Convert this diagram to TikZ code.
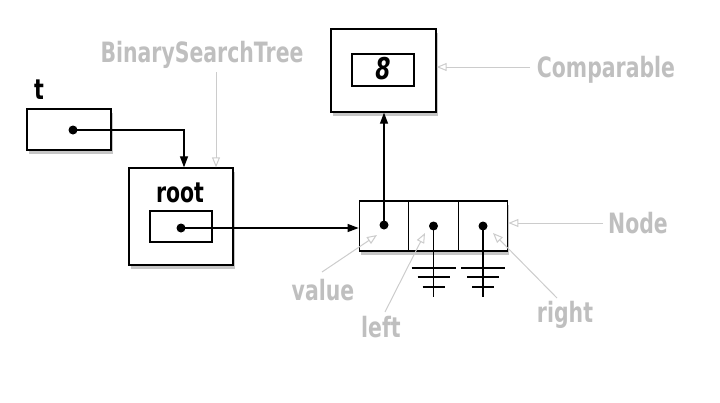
\documentclass[tikz,border=0pt]{standalone}
\usepackage{fontspec}
\newfontfamily\labfont[FakeStretch=0.73]{DejaVu Sans}
\usetikzlibrary{arrows.meta,shadows}
\definecolor{labgray}{gray}{0.75}
\definecolor{linegray}{gray}{0.8}
\tikzset{
  box/.style={draw=black, line width=1.3pt, fill=white, inner sep=0pt},
  shbox/.style={box, drop shadow={shadow xshift=1.5pt, shadow yshift=-3.5pt, opacity=0.45}},
  dot/.style={circle, fill=black, inner sep=0pt, minimum size=9pt},
  arr/.style={draw=black, line width=1.2pt, -{Triangle[length=11pt,width=8pt]}},
  garr/.style={draw=linegray, line width=1pt, -{Triangle[open,length=10pt,width=8pt]}},
  gline/.style={draw=black, line width=1.2pt},
  glab/.style={font=\labfont\bfseries\fontsize{28}{30}\selectfont, text=labgray, anchor=base, inner sep=0pt},
  blab/.style={font=\labfont\bfseries\fontsize{28}{30}\selectfont, text=black, anchor=base, inner sep=0pt}
}
\begin{document}
\begin{tikzpicture}[x=1pt,y=-1pt]
\useasboundingbox (0,0) rectangle (720,402);
% boxes
\node[shbox, minimum width=84pt, minimum height=41pt] (tbox) at (69,129.5) {};
\node[shbox, minimum width=104pt, minimum height=97pt] (rootbox) at (181,216.5) {};
\node[box, minimum width=62pt, minimum height=31pt] (rootin) at (181,226.5) {};
\node[shbox, minimum width=105pt, minimum height=83pt] (compbox) at (383.5,70.5) {};
\node[box, minimum width=62pt, minimum height=32pt] (compin) at (383,70) {};
\node[shbox, minimum width=148.5pt, minimum height=50pt] (nodebg) at (433.5,226) {};
\node[box, minimum width=49.5pt, minimum height=50pt] (cella) at (384,226) {};
\node[box, minimum width=49.5pt, minimum height=50pt] (cellb) at (433.5,226) {};
\node[box, minimum width=49.5pt, minimum height=50pt] (cellc) at (483,226) {};
% black labels
\node[blab] (tlab) at (39,99) {t};
\node[blab] (rootlab) at (180,202) {root};
\node[blab, font=\labfont\bfseries\itshape\fontsize{30}{32}\selectfont] (eight) at (383,79) {8};
% dots
\node[dot] (d0) at (73,130) {};
\node[dot] (d1) at (181,228) {};
\node[dot] (d2) at (384,225) {};
\node[dot] (d3) at (433.5,226) {};
\node[dot] (d4) at (483,226) {};
% black arrows
\draw[arr] (d0.center) -| ([xshift=3pt]rootbox.north);
\draw[arr] (d1.center) -- (d1.center -| cella.west);
\draw[arr] (d2.center) -- (d2.center |- compbox.south);
% grounds
\coordinate (g1) at (433.5,297);
\coordinate (g2) at (483,297);
\foreach \g/\d in {g1/d3, g2/d4} {
  \draw[gline] (\d.center) -- (\g);
  \draw[gline] ([xshift=-22pt,yshift=29pt]\g) -- ([xshift=22pt,yshift=29pt]\g);
  \draw[gline] ([xshift=-16pt,yshift=20pt]\g) -- ([xshift=16pt,yshift=20pt]\g);
  \draw[gline] ([xshift=-11pt,yshift=10pt]\g) -- ([xshift=11pt,yshift=10pt]\g);
}
% gray labels
\node[glab] (bst) at (202,62) {BinarySearchTree};
\node[glab] (comp) at (606,77) {Comparable};
\node[glab] (nodelab) at (638,233) {Node};
\node[glab] (vallab) at (323,300) {value};
\node[glab] (leftlab) at (381,337) {left};
\node[glab] (rightlab) at (565,322) {right};
% gray arrows
\coordinate (bs) at (216,72);
\draw[garr] (bs) -- (bs |- rootbox.north);
\coordinate (cs) at (530,67);
\draw[garr] (cs) -- (cs -| compbox.east);
\coordinate (ns) at (603,223);
\draw[garr] (ns) -- (ns -| nodebg.east);
\coordinate (vs) at (322,272);
\coordinate (ve) at (377,235);
\draw[garr] (vs) -- (ve);
\coordinate (ls) at (385,312);
\coordinate (le) at (425,233);
\draw[garr] (ls) -- (le);
\coordinate (rs) at (557,298);
\coordinate (re) at (493,233);
\draw[garr] (rs) -- (re);
\end{tikzpicture}
\end{document}
